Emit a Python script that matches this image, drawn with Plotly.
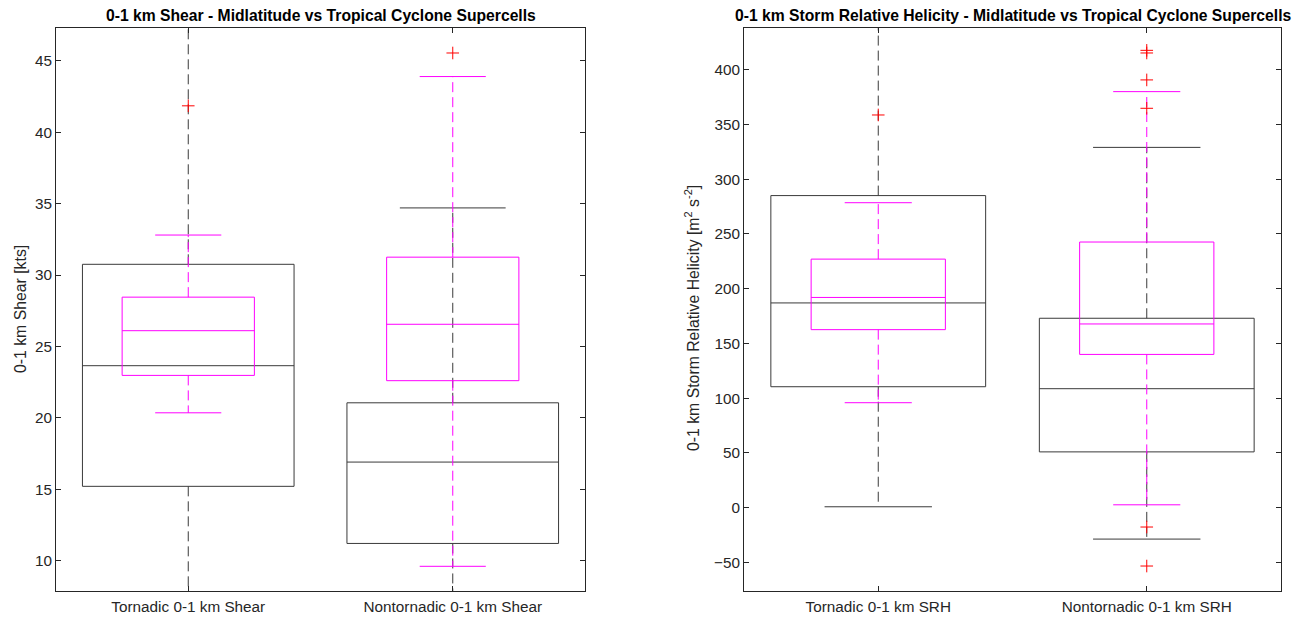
import plotly.graph_objects as go

# ---------------- data ----------------
shear_labels = ["Tornadic 0-1 km Shear", "Nontornadic 0-1 km Shear"]
srh_labels = ["Tornadic 0-1 km SRH", "Nontornadic 0-1 km SRH"]
positions = [1, 2]

# 0-1 km shear, midlatitude supercells (black)
shear_mid_lo = [5.0, 5.0]
shear_mid_q1 = [15.2, 11.2]
shear_mid_med = [23.65, 16.9]
shear_mid_q3 = [30.75, 21.05]
shear_mid_hi = [50.0, 34.7]
shear_mid_out = [[], []]

# 0-1 km shear, tropical cyclone supercells (magenta)
shear_tc_lo = [20.35, 9.6]
shear_tc_q1 = [22.97, 22.6]
shear_tc_med = [26.1, 26.55]
shear_tc_q3 = [28.45, 31.25]
shear_tc_hi = [32.8, 43.9]
shear_tc_out = [[41.85], [45.55]]

# 0-1 km SRH, midlatitude supercells (black)
srh_mid_lo = [0.9, -28.6]
srh_mid_q1 = [110.5, 51.0]
srh_mid_med = [187.0, 108.7]
srh_mid_q3 = [285.0, 173.0]
srh_mid_hi = [470.0, 329.0]
srh_mid_out = [[], [364.7, -53.2]]

# 0-1 km SRH, tropical cyclone supercells (magenta)
srh_tc_lo = [95.9, 2.7]
srh_tc_q1 = [162.6, 140.0]
srh_tc_med = [192.0, 167.8]
srh_tc_q3 = [227.0, 242.6]
srh_tc_hi = [278.5, 379.9]
srh_tc_out = [[358.6], [390.6, 415.2, 417.6, -17.6]]

shear_yticks = [10, 15, 20, 25, 30, 35, 40, 45]
srh_yticks = [-50, 0, 50, 100, 150, 200, 250, 300, 350, 400]

# ---------------- style ----------------
FONT = "Liberation Sans, Arial, Helvetica, sans-serif"
AX = "#262626"
BLACK = "#3a3a3a"
MAGENTA = "#ff00ff"
RED = "#ff0000"

fig = go.Figure()


def add_group(lo, q1, med, q3, hi, outs, width, color, xa, ya):
    sx, sy, dx, dy = [], [], [], []
    for p, a, b, m, c, d in zip(positions, lo, q1, med, q3, hi):
        h = width / 2
        k = width / 4
        sx += [p - h, p + h, p + h, p - h, p - h, None]
        sy += [b, b, c, c, b, None]
        sx += [p - h, p + h, None]
        sy += [m, m, None]
        sx += [p - k, p + k, None, p - k, p + k, None]
        sy += [d, d, None, a, a, None]
        dx += [p, p, None, p, p, None]
        dy += [c, d, None, b, a, None]
    fig.add_trace(go.Scatter(x=dx, y=dy, mode="lines", xaxis=xa, yaxis=ya,
                             line=dict(color=color, width=1, dash="10px,5px"),
                             hoverinfo="skip", showlegend=False))
    fig.add_trace(go.Scatter(x=sx, y=sy, mode="lines", xaxis=xa, yaxis=ya,
                             line=dict(color=color, width=1),
                             hoverinfo="skip", showlegend=False))
    ox, oy = [], []
    for p, o in zip(positions, outs):
        ox += [p] * len(o)
        oy += list(o)
    return ox, oy


def add_outliers(ox, oy, xa, ya):
    fig.add_trace(go.Scatter(x=ox, y=oy, mode="markers", xaxis=xa, yaxis=ya,
                             marker=dict(symbol="cross-thin", size=9,
                                         line=dict(color=RED, width=1)),
                             hoverinfo="skip", showlegend=False))


o1 = add_group(shear_mid_lo, shear_mid_q1, shear_mid_med, shear_mid_q3, shear_mid_hi,
               shear_mid_out, 0.8, BLACK, "x", "y")
o2 = add_group(shear_tc_lo, shear_tc_q1, shear_tc_med, shear_tc_q3, shear_tc_hi,
               shear_tc_out, 0.5, MAGENTA, "x", "y")
add_outliers(o1[0] + o2[0], o1[1] + o2[1], "x", "y")

o3 = add_group(srh_mid_lo, srh_mid_q1, srh_mid_med, srh_mid_q3, srh_mid_hi,
               srh_mid_out, 0.8, BLACK, "x2", "y2")
o4 = add_group(srh_tc_lo, srh_tc_q1, srh_tc_med, srh_tc_q3, srh_tc_hi,
               srh_tc_out, 0.5, MAGENTA, "x2", "y2")
add_outliers(o3[0] + o4[0], o3[1] + o4[1], "x2", "y2")

W, H = 1313, 622
L1, R1 = 56, 585
L2, R2 = 744, 1281
TOP, BOT = 28, 591

axis_common = dict(showline=True, linecolor=AX, linewidth=1, mirror="ticks",
                   ticks="inside", ticklen=5, tickcolor=AX, tickwidth=1,
                   showgrid=False, zeroline=False,
                   tickfont=dict(family=FONT, size=15.3, color=AX))

fig.update_layout(
    width=W, height=H,
    margin=dict(l=0, r=0, t=TOP, b=H - BOT, autoexpand=False),
    paper_bgcolor="white", plot_bgcolor="white",
    xaxis=dict(domain=[L1 / W, R1 / W], range=[0.5, 2.5], tickvals=positions,
               ticktext=shear_labels, anchor="y", ticklabelstandoff=2,
               **axis_common),
    yaxis=dict(domain=[0, 1], range=[7.87, 47.3], tickvals=shear_yticks,
               anchor="x", **axis_common),
    xaxis2=dict(domain=[L2 / W, R2 / W], range=[0.5, 2.5], tickvals=positions,
                ticktext=srh_labels, anchor="y2", ticklabelstandoff=2,
                **axis_common),
    yaxis2=dict(domain=[0, 1], range=[-76, 438], tickvals=srh_yticks,
                anchor="x2", **axis_common),
)

ph = BOT - TOP


def py(pix):
    return (BOT - pix) / ph


fig.add_annotation(text="<b>0-1 km Shear - Midlatitude vs Tropical Cyclone Supercells</b>",
                   x=(L1 + R1) / 2 / W, y=py(15), xref="paper", yref="paper",
                   xanchor="center", yanchor="middle", showarrow=False,
                   font=dict(family=FONT, size=15.7, color="black"))
fig.add_annotation(text="<b>0-1 km Storm Relative Helicity - Midlatitude vs Tropical Cyclone Supercells</b>",
                   x=(L2 + R2) / 2 / W, y=py(15), xref="paper", yref="paper",
                   xanchor="center", yanchor="middle", showarrow=False,
                   font=dict(family=FONT, size=15.7, color="black"))
fig.add_annotation(text="0-1 km Shear [kts]", textangle=-90,
                   x=20 / W, y=py(309), xref="paper", yref="paper",
                   xanchor="center", yanchor="middle", showarrow=False,
                   font=dict(family=FONT, size=15.8, color=AX))
fig.add_annotation(text="0-1 km Storm Relative Helicity [m<sup>2</sup> s<sup>-2</sup>]",
                   textangle=-90,
                   x=692 / W, y=py(318), xref="paper", yref="paper",
                   xanchor="center", yanchor="middle", showarrow=False,
                   font=dict(family=FONT, size=15.8, color=AX))

fig.write_html("out.html",
               config={"displayModeBar": False, "staticPlot": True},
               post_script="document.body.style.margin='0';document.body.style.overflow='hidden';")
